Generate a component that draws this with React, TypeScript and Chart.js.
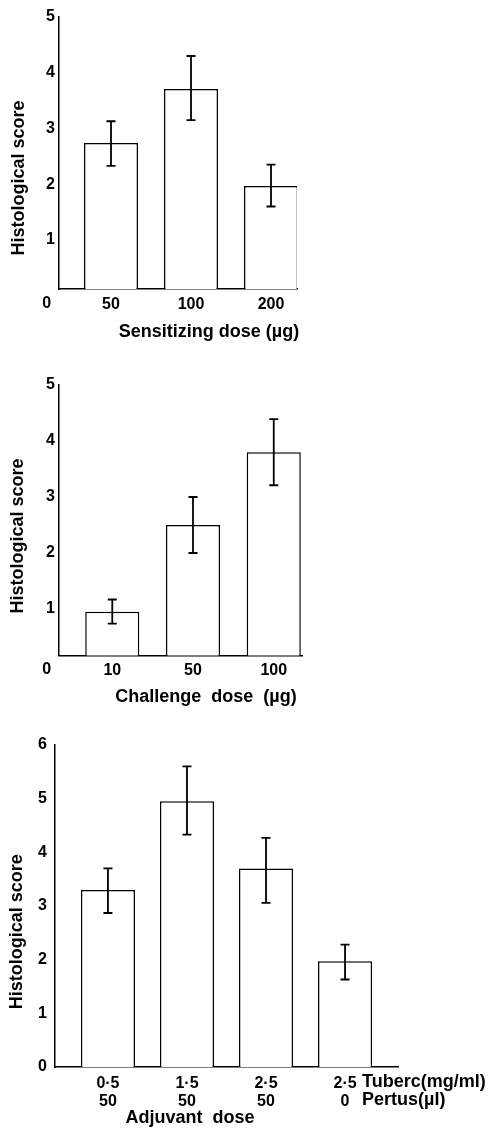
import React, { useEffect, useRef } from 'react';
import { Chart, registerables } from 'chart.js';

Chart.register(...registerables);

// ---------- data ----------
const sensitizingLabels = ['50', '100', '200'];
const sensitizingScores = [2.74, 3.71, 1.97];
const sensitizingLow = [2.33, 3.15, 1.6];
const sensitizingHigh = [3.13, 4.3, 2.35];

const challengeLabels = ['10', '50', '100'];
const challengeScores = [0.95, 2.5, 3.8];
const challengeLow = [0.74, 2.0, 3.21];
const challengeHigh = [1.17, 3.0, 4.39];

const adjuvantLabels = [['0·5', '50'], ['1·5', '50'], ['2·5', '50'], ['2·5', '0']];
const adjuvantScores = [3.3, 4.95, 3.7, 1.97];
const adjuvantLow = [2.87, 4.33, 3.06, 1.63];
const adjuvantHigh = [3.7, 5.6, 4.27, 2.28];

const yTicksFive = [1, 2, 3, 4, 5];
const yTicksSix = [0, 1, 2, 3, 4, 5, 6];

const FONT = "'Liberation Sans', Arial, Helvetica, sans-serif";

type Txt = { text: string; x: number; y: number; rotate?: boolean; align?: CanvasTextAlign; size?: number };

const extrasPlugin = {
  id: 'extras',
  afterDatasetsDraw(chart: any) {
    const ctx = chart.ctx;
    const ys = chart.scales.y;
    ctx.save();
    ctx.strokeStyle = '#000';
    ctx.lineWidth = 1.8;
    chart.data.datasets.forEach((ds: any, di: number) => {
      const meta = chart.getDatasetMeta(di);
      meta.data.forEach((bar: any, i: number) => {
        const x = bar.x;
        const top = ys.getPixelForValue(ds.errHigh[i]);
        const bot = ys.getPixelForValue(ds.errLow[i]);
        ctx.beginPath();
        ctx.moveTo(x, top);
        ctx.lineTo(x, bot);
        ctx.moveTo(x - 4.5, top);
        ctx.lineTo(x + 4.5, top);
        ctx.moveTo(x - 4.5, bot);
        ctx.lineTo(x + 4.5, bot);
        ctx.stroke();
      });
    });
    ctx.restore();
  },
  afterDraw(chart: any, _a: any, opts: any) {
    const ctx = chart.ctx;
    (opts.texts || []).forEach((t: Txt) => {
      ctx.save();
      ctx.fillStyle = '#000';
      ctx.font = `bold ${t.size || 18}px ${FONT}`;
      ctx.textBaseline = 'middle';
      ctx.textAlign = t.align || 'center';
      ctx.translate(t.x, t.y);
      if (t.rotate) ctx.rotate(-Math.PI / 2);
      ctx.fillText(t.text, 0, 0);
      ctx.restore();
    });
  },
};

type PanelCfg = {
  labels: any[];
  scores: number[];
  low: number[];
  high: number[];
  xMin: number;
  xMax: number;
  yMin: number;
  yMax: number;
  yTicks: number[];
  barFrac: number;
  padding: { left: number; right: number; top: number; bottom: number };
  xHeight: number;
  yWidth: number;
  yTickPad: number;
  xTickPad: number;
  texts: Txt[];
};

function buildConfig(c: PanelCfg): any {
  return {
    type: 'bar',
    data: {
      datasets: [
        {
          data: c.scores.map((v, i) => ({ x: i, y: v })),
          errLow: c.low,
          errHigh: c.high,
          backgroundColor: '#ffffff',
          borderColor: '#000000',
          borderWidth: 1.5,
          barPercentage: c.barFrac,
          categoryPercentage: 1,
        },
      ],
    },
    plugins: [extrasPlugin],
    options: {
      responsive: false,
      animation: false,
      devicePixelRatio: 1,
      layout: { padding: c.padding },
      plugins: {
        legend: { display: false },
        tooltip: { enabled: false },
        extras: { texts: c.texts },
      },
      scales: {
        x: {
          type: 'linear',
          offset: false,
          min: c.xMin,
          max: c.xMax,
          grid: { display: false, drawTicks: false, offset: false },
          border: { display: true, color: '#000', width: 1.5 },
          afterBuildTicks: (s: any) => {
            s.ticks = c.labels.map((_: any, i: number) => ({ value: i }));
          },
          afterFit: (s: any) => {
            s.height = c.xHeight;
            s.paddingLeft = 0;
            s.paddingRight = 0;
          },
          ticks: {
            autoSkip: false,
            maxRotation: 0,
            padding: c.xTickPad,
            color: '#000',
            font: { family: FONT, size: 16, weight: 'bold', lineHeight: 1.15 },
            callback: (_v: any, i: number) => c.labels[i],
          },
        },
        y: {
          type: 'linear',
          min: c.yMin,
          max: c.yMax,
          grid: { display: false, drawTicks: false },
          border: { display: true, color: '#000', width: 1.5 },
          afterBuildTicks: (s: any) => {
            s.ticks = c.yTicks.map((v) => ({ value: v }));
          },
          afterFit: (s: any) => {
            s.width = c.yWidth;
            s.paddingTop = 0;
            s.paddingBottom = 0;
          },
          ticks: {
            padding: c.yTickPad,
            color: '#000',
            font: { family: FONT, size: 16, weight: 'bold' },
            callback: (v: any) => String(v),
          },
        },
      },
    },
  };
}

const panels: { top: number; height: number; cfg: PanelCfg }[] = [
  {
    top: 0,
    height: 350,
    cfg: {
      labels: sensitizingLabels,
      scores: sensitizingScores,
      low: sensitizingLow,
      high: sensitizingHigh,
      xMin: -0.65,
      xMax: 2.325,
      yMin: 0.12,
      yMax: 5,
      yTicks: yTicksFive,
      barFrac: 0.675,
      padding: { left: 29, right: 195, top: 17, bottom: 31 },
      xHeight: 30,
      yWidth: 30,
      yTickPad: 4,
      xTickPad: 6,
      texts: [
        { text: '0', x: 46.7, y: 303.5, size: 16 },
        { text: 'Histological score', x: 19, y: 178, rotate: true },
        { text: 'Sensitizing dose (µg)', x: 209, y: 332 },
      ],
    },
  },
  {
    top: 350,
    height: 370,
    cfg: {
      labels: challengeLabels,
      scores: challengeScores,
      low: challengeLow,
      high: challengeHigh,
      xMin: -0.66,
      xMax: 2.35,
      yMin: 0.17,
      yMax: 5,
      yTicks: yTicksFive,
      barFrac: 0.67,
      padding: { left: 29, right: 190, top: 35, bottom: 34.5 },
      xHeight: 30,
      yWidth: 30,
      yTickPad: 4,
      xTickPad: 6,
      texts: [
        { text: '0', x: 46.7, y: 320, size: 16 },
        { text: 'Histological score', x: 18.5, y: 186, rotate: true },
        { text: 'Challenge  dose  (µg)', x: 206, y: 347 },
      ],
    },
  },
  {
    top: 720,
    height: 417,
    cfg: {
      labels: adjuvantLabels,
      scores: adjuvantScores,
      low: adjuvantLow,
      high: adjuvantHigh,
      xMin: -0.67,
      xMax: 3.67,
      yMin: 0,
      yMax: 6,
      yTicks: yTicksSix,
      barFrac: 0.684,
      padding: { left: 25, right: 94, top: 25, bottom: 20 },
      xHeight: 50,
      yWidth: 30,
      yTickPad: 8,
      xTickPad: 7,
      texts: [
        { text: 'Tuberc(mg/ml)', x: 362, y: 362, align: 'left' },
        { text: 'Pertus(µl)', x: 362, y: 380.5, align: 'left' },
        { text: 'Histological score', x: 17, y: 211.7, rotate: true },
        { text: 'Adjuvant  dose', x: 190, y: 398 },
      ],
    },
  },
];

function Panel({ top, height, cfg }: { top: number; height: number; cfg: PanelCfg }) {
  const ref = useRef<HTMLCanvasElement>(null);
  useEffect(() => {
    const chart = new Chart(ref.current as HTMLCanvasElement, buildConfig(cfg));
    return () => chart.destroy();
  }, []);
  return (
    <canvas
      ref={ref}
      width={492}
      height={height}
      style={{ position: 'absolute', left: 0, top, width: 492, height, display: 'block' }}
    />
  );
}

export default function App() {
  return (
    <div style={{ position: 'absolute', left: 0, top: 0, width: 492, height: 1137, background: '#fff' }}>
      {panels.map((p, i) => (
        <Panel key={i} top={p.top} height={p.height} cfg={p.cfg} />
      ))}
    </div>
  );
}
